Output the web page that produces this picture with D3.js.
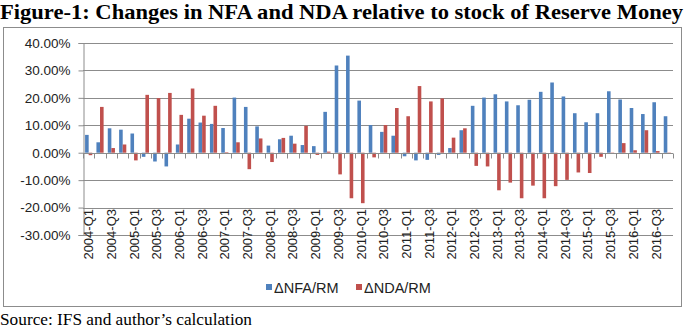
<!DOCTYPE html>
<html>
  <head>
    <meta charset="utf-8">
    <title>Figure-1</title>
    <script src="https://cdnjs.cloudflare.com/ajax/libs/d3/7.8.5/d3.min.js" charset="utf-8"></script>
    <style>
      body { margin: 0; background: #fff; }
      svg text { font-family: "Liberation Sans", Arial, sans-serif; }
    </style>
  </head>
  <body>
    <div id="chart"></div>
    <script>

var quarters = ["2004-Q1","2004-Q2","2004-Q3","2004-Q4","2005-Q1","2005-Q2","2005-Q3","2005-Q4",
  "2006-Q1","2006-Q2","2006-Q3","2006-Q4","2007-Q1","2007-Q2","2007-Q3","2007-Q4",
  "2008-Q1","2008-Q2","2008-Q3","2008-Q4","2009-Q1","2009-Q2","2009-Q3","2009-Q4",
  "2010-Q1","2010-Q2","2010-Q3","2010-Q4","2011-Q1","2011-Q2","2011-Q3","2011-Q4",
  "2012-Q1","2012-Q2","2012-Q3","2012-Q4","2013-Q1","2013-Q2","2013-Q3","2013-Q4",
  "2014-Q1","2014-Q2","2014-Q3","2014-Q4","2015-Q1","2015-Q2","2015-Q3","2015-Q4",
  "2016-Q1","2016-Q2","2016-Q3","2016-Q4"];

// percent values
var nfa = [6.5, 3.8, 8.9, 8.4, 7.0, -1.5, -3.2, -5.0, 3.0, 12.4, 11.0, 10.5,
  9.0, 20.1, 16.7, 9.6, 2.6, 4.9, 6.2, 2.8, 2.4, 14.9,
  31.8, 35.4, 19.0, 10.1, 7.6, 6.2, -1.3, -2.8, -2.6, -0.8,
  1.7, 8.2, 17.1, 20.1, 21.3, 18.7, 17.3, 19.3, 22.2, 25.6,
  20.5, 14.4, 11.1, 14.4, 22.4, 19.4, 16.3, 14.1, 18.4, 13.3];

var nda = [-0.9, 16.7, 1.7, 3.0, -2.8, 21.1, 19.9, 21.8, 13.8, 23.4, 13.5, 17.1,
  0.2, 3.8, -6.0, 5.2, -3.4, 5.4, 3.3, 9.8, -0.8, 0.4,
  -7.9, -16.6, -18.4, -1.7, 10.1, 16.3, 13.3, 24.3, 18.7, 19.8,
  5.5, 8.9, -4.8, -5.0, -13.7, -10.9, -16.6, -12.0, -16.6, -12.2,
  -9.9, -7.2, -7.4, -1.5, -0.2, 3.5, 0.9, 8.2, 0.6, -0.3];

var seriesNames = ["\u0394NFA/RM", "\u0394NDA/RM"];
var seriesColors = ["#4f81bd", "#c0504d"];
var yTicks = [40, 30, 20, 10, 0, -10, -20, -30];

var W = 690, H = 330;
var svg = d3.select("#chart").append("svg")
    .attr("width", W).attr("height", H);

// title
svg.append("text")
    .attr("x", 0).attr("y", 19)
    .attr("textLength", 683).attr("lengthAdjust", "spacingAndGlyphs")
    .style("font-family", "'Liberation Serif', 'Times New Roman', serif")
    .style("font-weight", "bold")
    .style("font-size", "21px")
    .text("Figure-1: Changes in NFA and NDA relative to stock of Reserve Money");

// chart frame
svg.append("rect")
    .attr("x", 3.5).attr("y", 27.5).attr("width", 678).attr("height", 279)
    .attr("fill", "#fff").attr("stroke", "#8c8c8c");

var x0 = d3.scaleBand().domain(quarters).range([83, 673]);
var x1 = d3.scaleBand().domain([0, 1]).range([0, x0.bandwidth()]).paddingOuter(0.58);
var y = d3.scaleLinear().domain([-30, 40]).range([235, 43]);

// gridlines
svg.append("g").selectAll("line").data(yTicks).enter().append("line")
    .attr("x1", 83).attr("x2", 673)
    .attr("y1", function(d) { return Math.round(y(d)) + 0.5; })
    .attr("y2", function(d) { return Math.round(y(d)) + 0.5; })
    .attr("stroke", "#8c8c8c");

// y axis
var yAxis = d3.axisLeft(y).tickValues(yTicks).tickSize(5)
    .tickFormat(function(d) { return d.toFixed(2) + "%"; });
var gy = svg.append("g").attr("transform", "translate(83.5,0)").call(yAxis);
gy.select(".domain").attr("stroke", "#8c8c8c");
gy.selectAll(".tick line").attr("stroke", "#8c8c8c");
gy.selectAll(".tick text").attr("x", -13)
    .style("font-size", "13.5px").style("fill", "#222");

// bars
var groups = svg.append("g").selectAll("g").data(quarters).enter().append("g")
    .attr("transform", function(d) { return "translate(" + x0(d) + ",0)"; });
groups.selectAll("rect")
    .data(function(d, i) { return [nfa[i], nda[i]]; })
    .enter().append("rect")
    .attr("x", function(d, j) { return x1(j); })
    .attr("width", x1.bandwidth())
    .attr("y", function(d) { return y(Math.max(0, d)); })
    .attr("height", function(d) { return Math.abs(y(d) - y(0)); })
    .attr("fill", function(d, j) { return seriesColors[j]; });

// category axis on the zero line
var zeroY = Math.round(y(0)) + 0.5;
var bounds = quarters.map(function(q) { return x0(q); }).concat([673]);
svg.append("g").selectAll("line").data(bounds).enter().append("line")
    .attr("x1", function(d) { return Math.round(d) + 0.5; })
    .attr("x2", function(d) { return Math.round(d) + 0.5; })
    .attr("y1", zeroY).attr("y2", zeroY + 5)
    .attr("stroke", "#8c8c8c");
svg.append("line")
    .attr("x1", 83).attr("x2", 673).attr("y1", zeroY).attr("y2", zeroY)
    .attr("stroke", "#8c8c8c");

// rotated category labels, every second quarter
svg.append("g").selectAll("text")
    .data(quarters.filter(function(d, i) { return i % 2 === 0; }))
    .enter().append("text")
    .attr("transform", function(d) {
      return "translate(" + (x0(d) + x0.bandwidth() / 2) + ",209) rotate(-90)";
    })
    .attr("dy", "0.35em")
    .attr("text-anchor", "end")
    .style("font-size", "13px").style("fill", "#222")
    .text(function(d) { return d; });

// legend
var legend = svg.append("g").attr("transform", "translate(266,288)");
var lx = [0, 90];
seriesNames.forEach(function(name, j) {
  legend.append("rect")
      .attr("x", lx[j]).attr("y", -4).attr("width", 6).attr("height", 6)
      .attr("fill", seriesColors[j]);
  legend.append("text")
      .attr("x", lx[j] + 8).attr("y", 0).attr("dy", "0.35em")
      .style("font-size", "14.5px").style("fill", "#222")
      .text(name);
});

// source note
svg.append("text")
    .attr("x", 0).attr("y", 325)
    .attr("textLength", 252).attr("lengthAdjust", "spacingAndGlyphs")
    .style("font-family", "'Liberation Serif', 'Times New Roman', serif")
    .style("font-size", "16px")
    .text("Source: IFS and author\u2019s calculation");

    </script>
  </body>
</html>
